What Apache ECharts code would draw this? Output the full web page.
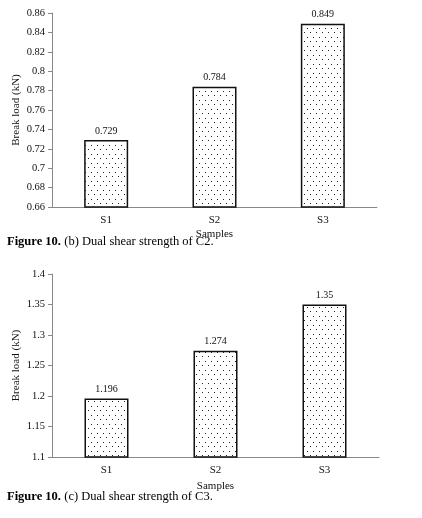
<!DOCTYPE html>
<html>
<head>
<meta charset="utf-8">
<script src="https://cdn.jsdelivr.net/npm/echarts@6/dist/echarts.min.js"></script>
<style>
  html, body { margin: 0; padding: 0; background: #fff; }
  #chart { width: 422px; height: 518px; }
</style>
</head>
<body>
<div id="chart"></div>
<script>
// data
const samples = ["S1", "S2", "S3"];
const loadC2 = [0.729, 0.784, 0.849];
const loadC3 = [1.196, 1.274, 1.35];

const captionC2 = "(b) Dual shear strength of C2.";
const captionC3 = "(c) Dual shear strength of C3.";

const serif = "Liberation Serif";

// dotted fill like the original bars
function dotPattern() {
  const c = document.createElement("canvas");
  c.width = 6;
  c.height = 9;
  const ctx = c.getContext("2d");
  ctx.fillStyle = "#fff";
  ctx.fillRect(0, 0, 6, 9);
  ctx.fillStyle = "#222";
  ctx.fillRect(1, 1, 1, 1);
  ctx.fillRect(4, 5, 1, 1);
  return c;
}
const pattern = { image: dotPattern(), repeat: "repeat" };

function yAxis(idx, min, max, step) {
  return {
    type: "value",
    gridIndex: idx,
    min: min,
    max: max,
    interval: step,
    name: "Break load (kN)",
    nameLocation: "middle",
    nameGap: 30,
    nameMoveOverlap: false,
    nameTextStyle: { fontFamily: serif, fontSize: 11, color: "#111" },
    axisLine: { show: true, lineStyle: { color: "#888", width: 1 } },
    axisTick: { show: true, length: 4, lineStyle: { color: "#888" } },
    axisLabel: { fontFamily: serif, fontSize: 10.5, color: "#111", margin: 7 },
    splitLine: { show: false }
  };
}

function xAxis(idx, gap) {
  return {
    type: "category",
    gridIndex: idx,
    data: samples,
    name: "Samples",
    nameLocation: "middle",
    nameGap: gap,
    nameMoveOverlap: false,
    nameTextStyle: { fontFamily: serif, fontSize: 11, color: "#111" },
    axisLine: { lineStyle: { color: "#888", width: 1 } },
    axisTick: { show: false },
    axisLabel: { fontFamily: serif, fontSize: 11, color: "#111", margin: 8 }
  };
}

function barSeries(idx, values) {
  return {
    type: "bar",
    xAxisIndex: idx,
    yAxisIndex: idx,
    data: values,
    barWidth: 44,
    itemStyle: { color: pattern, borderColor: "#111", borderWidth: 1.5 },
    label: {
      show: true,
      position: "top",
      distance: 4,
      fontFamily: serif,
      fontSize: 10,
      color: "#111"
    }
  };
}

function caption(top, rest) {
  return {
    type: "text",
    left: 7,
    top: top,
    style: {
      text: "{b|Figure 10.} {n|" + rest + "}",
      rich: {
        b: { fontFamily: serif, fontSize: 12.5, fontWeight: "bold", fill: "#000" },
        n: { fontFamily: serif, fontSize: 12.5, fill: "#000" }
      }
    }
  };
}

const chart = echarts.init(document.getElementById("chart"), null, { renderer: "canvas" });
chart.setOption({
  backgroundColor: "#fff",
  animation: false,
  grid: [
    { left: 52, top: 13, right: 45, height: 194, outerBoundsMode: "none" },
    { left: 52, top: 274, right: 43, height: 183, outerBoundsMode: "none" }
  ],
  xAxis: [xAxis(0, 22), xAxis(1, 24)],
  yAxis: [yAxis(0, 0.66, 0.86, 0.02), yAxis(1, 1.1, 1.4, 0.05)],
  series: [barSeries(0, loadC2), barSeries(1, loadC3)],
  graphic: [caption(235, captionC2), caption(490, captionC3)]
});
</script>
</body>
</html>
